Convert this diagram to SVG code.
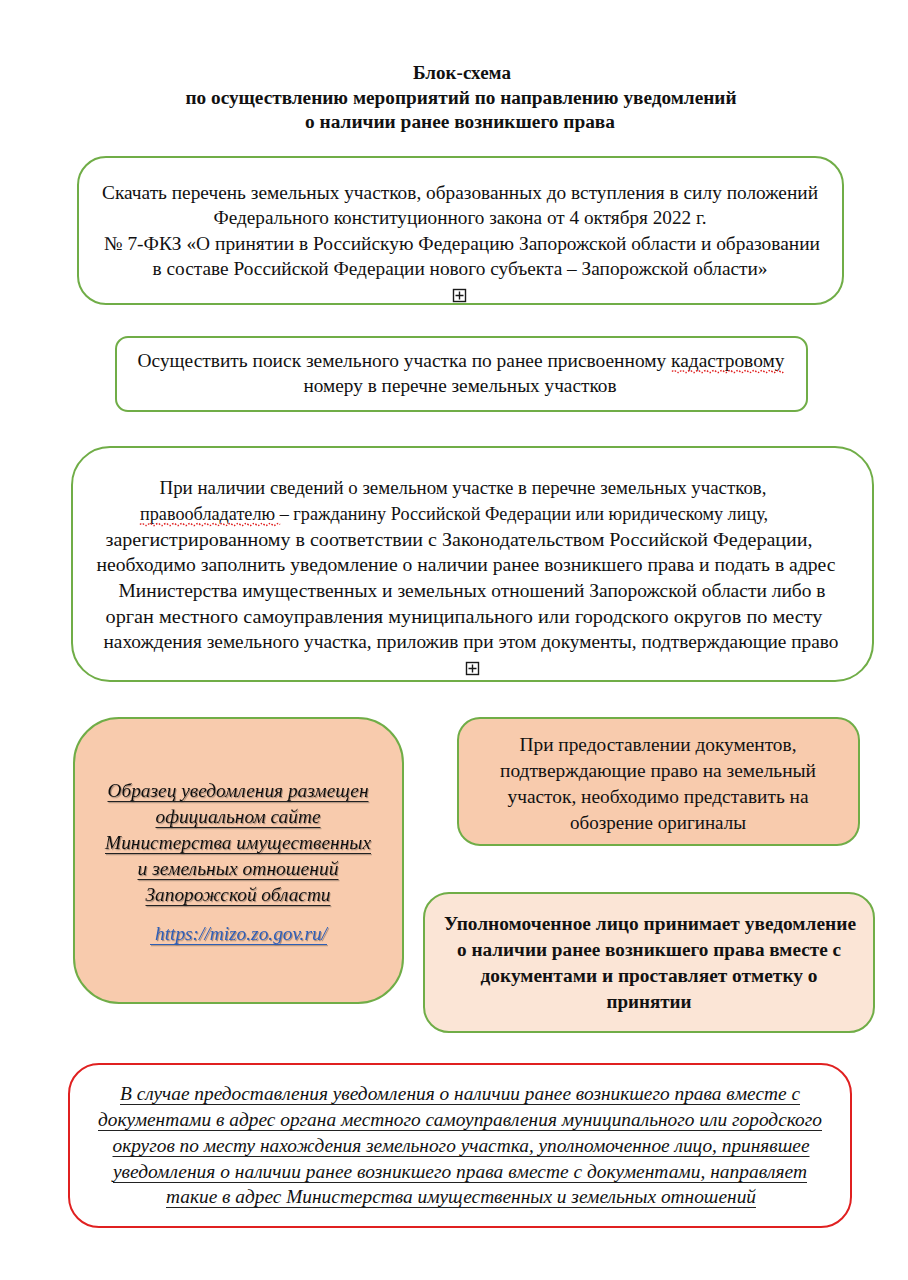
<svg xmlns="http://www.w3.org/2000/svg" width="908" height="1280" viewBox="0 0 908 1280">
<defs>
<filter id="sh" x="-5%" y="-20%" width="110%" height="140%">
<feDropShadow dx="1" dy="1.2" stdDeviation="0.6" flood-color="#6b5a50" flood-opacity="0.55"/>
</filter>
</defs>
<style>
.t{font-family:"Liberation Serif","Times New Roman",serif;font-size:18px;fill:#111;text-anchor:middle}
.c{font-size:19.5px}
.b{font-weight:bold}
.i{font-style:italic}
.box{stroke:#70AD47;stroke-width:2}
.sq{fill:none;stroke:#E02020;stroke-width:1.5;stroke-dasharray:1.5 1.5}
.pl{fill:#fff;stroke:#1a1a1a;stroke-width:1.4}
.ul{stroke:#222;stroke-width:1;fill:none}
</style>
<rect width="908" height="1280" fill="#fff"/>
<g id="title">
<text class="t b" x="462" y="79" textLength="98" lengthAdjust="spacingAndGlyphs">Блок-схема</text>
<text class="t b" x="461" y="104" textLength="551" lengthAdjust="spacingAndGlyphs">по осуществлению мероприятий по направлению уведомлений</text>
<text class="t b" x="460" y="128" textLength="310" lengthAdjust="spacingAndGlyphs">о наличии ранее возникшего права</text>
</g>
<g id="n1">
<rect class="box" x="78" y="157" width="765" height="147" rx="28" fill="#fff"/>
<text class="t c" x="460" y="199" textLength="716" lengthAdjust="spacingAndGlyphs">Скачать перечень земельных участков, образованных до вступления в силу положений</text>
<text class="t c" x="460" y="224" textLength="493" lengthAdjust="spacingAndGlyphs">Федерального конституционного закона от 4 октября 2022 г.</text>
<text class="t c" x="462" y="250" textLength="716" lengthAdjust="spacingAndGlyphs">№ 7-ФКЗ «О принятии в Российскую Федерацию Запорожской области и образовании</text>
<text class="t c" x="460" y="275" textLength="615" lengthAdjust="spacingAndGlyphs">в составе Российской Федерации нового субъекта – Запорожской области»</text>
<rect class="pl" x="453.5" y="289.5" width="12" height="12"/>
<path d="M459.5 291.5v8M455.5 295.5h8" stroke="#1a1a1a" stroke-width="1.4"/>
</g>
<g id="n2">
<rect class="box" x="116" y="337" width="691" height="74" rx="12" fill="#fff"/>
<text class="t c" x="461" y="367" textLength="647" lengthAdjust="spacingAndGlyphs">Осуществить поиск земельного участка по ранее присвоенному кадастровому</text>
<text class="t c" x="460" y="392" textLength="313" lengthAdjust="spacingAndGlyphs">номеру в перечне земельных участков</text>
<path class="sq" d="M672 371.5q2-2 4 0t4 0t4 0t4 0t4 0t4 0t4 0t4 0t4 0t4 0t4 0t4 0t4 0t4 0t4 0t4 0t4 0t4 0t4 0t4 0t4 0t4 0t4 0t4 0t4 0t4 0t4 0t4 0"/>
</g>
<g id="n3">
<rect class="box" x="72" y="447" width="801" height="234" rx="38" fill="#fff"/>
<text class="t c" x="463" y="494" textLength="607" lengthAdjust="spacingAndGlyphs">При наличии сведений о земельном участке в перечне земельных участков,</text>
<text class="t c" x="454" y="520" textLength="628" lengthAdjust="spacingAndGlyphs">правообладателю – гражданину Российской Федерации или юридическому лицу,</text>
<text class="t c" x="459" y="546" textLength="707" lengthAdjust="spacingAndGlyphs">зарегистрированному в соответствии с Законодательством Российской Федерации,</text>
<text class="t c" x="466" y="571" textLength="739" lengthAdjust="spacingAndGlyphs">необходимо заполнить уведомление о наличии ранее возникшего права и подать в адрес</text>
<text class="t c" x="472" y="597" textLength="707" lengthAdjust="spacingAndGlyphs">Министерства имущественных и земельных отношений Запорожской области либо в</text>
<text class="t c" x="464" y="623" textLength="717" lengthAdjust="spacingAndGlyphs">орган местного самоуправления муниципального или городского округов по месту</text>
<text class="t c" x="471" y="648" textLength="735" lengthAdjust="spacingAndGlyphs">нахождения земельного участка, приложив при этом документы, подтверждающие право</text>
<path class="sq" d="M140 524.5q2-2 4 0t4 0t4 0t4 0t4 0t4 0t4 0t4 0t4 0t4 0t4 0t4 0t4 0t4 0t4 0t4 0t4 0t4 0t4 0t4 0t4 0t4 0t4 0t4 0t4 0t4 0t4 0t4 0t4 0t4 0t4 0t4 0t4 0t4 0t4 0"/>
<rect class="pl" x="466.5" y="662.5" width="12" height="12"/>
<path d="M472.5 664.5v8M468.5 668.5h8" stroke="#1a1a1a" stroke-width="1.4"/>
</g>
<g id="n4">
<rect class="box" x="74" y="718" width="329" height="285" rx="45" fill="#F8CBAD"/>
<g filter="url(#sh)">
<text class="t i" x="238" y="797" style="font-size:19px" textLength="261" lengthAdjust="spacingAndGlyphs">Образец уведомления размещен</text>
<text class="t i" x="238" y="823" style="font-size:19px" textLength="165" lengthAdjust="spacingAndGlyphs">официальном сайте</text>
<text class="t i" x="238" y="849" style="font-size:19px" textLength="266" lengthAdjust="spacingAndGlyphs">Министерства имущественных</text>
<text class="t i" x="238" y="875" style="font-size:19px" textLength="201" lengthAdjust="spacingAndGlyphs">и земельных отношений</text>
<text class="t i" x="238" y="901" style="font-size:19px" textLength="185" lengthAdjust="spacingAndGlyphs">Запорожской области</text>
<text class="t i" x="241" y="940" style="fill:#2F5EB5;font-size:19px" textLength="172" lengthAdjust="spacingAndGlyphs">https://mizo.zo.gov.ru/</text>
<path class="ul" d="M107.5 801.5h261M155.5 827.5h165M105 853.5h266M137.5 879.5h201M145.5 905.5h185"/>
<path class="ul" style="stroke:#2F5EB5" d="M150 944.5h177"/>
</g>
</g>
<g id="n5">
<rect class="box" x="458" y="718" width="401" height="127" rx="22" fill="#F8CBAD"/>
<text class="t" x="658" y="751" textLength="277" lengthAdjust="spacingAndGlyphs">При предоставлении документов,</text>
<text class="t" x="658" y="777" textLength="316" lengthAdjust="spacingAndGlyphs">подтверждающие право на земельный</text>
<text class="t" x="658" y="803" textLength="301" lengthAdjust="spacingAndGlyphs">участок, необходимо представить на</text>
<text class="t" x="658" y="829" textLength="176" lengthAdjust="spacingAndGlyphs">обозрение оригиналы</text>
</g>
<g id="n6">
<rect class="box" x="424" y="893" width="450" height="139" rx="25" fill="#FBE5D6"/>
<text class="t b" x="650" y="930" textLength="412" lengthAdjust="spacingAndGlyphs">Уполномоченное лицо принимает уведомление</text>
<text class="t b" x="649" y="956" textLength="384" lengthAdjust="spacingAndGlyphs">о наличии ранее возникшего права вместе с</text>
<text class="t b" x="649" y="982" textLength="337" lengthAdjust="spacingAndGlyphs">документами и проставляет отметку о</text>
<text class="t b" x="649" y="1008" textLength="85" lengthAdjust="spacingAndGlyphs">принятии</text>
</g>
<g id="n7">
<rect x="69" y="1064" width="782" height="163" rx="30" fill="#fff" stroke="#E02020" stroke-width="2"/>
<text class="t c i" x="460" y="1100" textLength="680" lengthAdjust="spacingAndGlyphs">В случае предоставления уведомления о наличии ранее возникшего права вместе с</text>
<text class="t c i" x="460" y="1126" textLength="724" lengthAdjust="spacingAndGlyphs">документами в адрес органа местного самоуправления муниципального или городского</text>
<text class="t c i" x="461" y="1152" textLength="697" lengthAdjust="spacingAndGlyphs">округов по месту нахождения земельного участка, уполномоченное лицо, принявшее</text>
<text class="t c i" x="460" y="1178" textLength="694" lengthAdjust="spacingAndGlyphs">уведомления о наличии ранее возникшего права вместе с документами, направляет</text>
<text class="t c i" x="461" y="1203" textLength="590" lengthAdjust="spacingAndGlyphs">такие в адрес Министерства имущественных и земельных отношений</text>
<path class="ul" d="M120 1104.5h680M98 1130.5h724M112.5 1156.5h697M113 1182.5h694M166 1207.5h590"/>
</g>
<g id="connectors"/>
</svg>
